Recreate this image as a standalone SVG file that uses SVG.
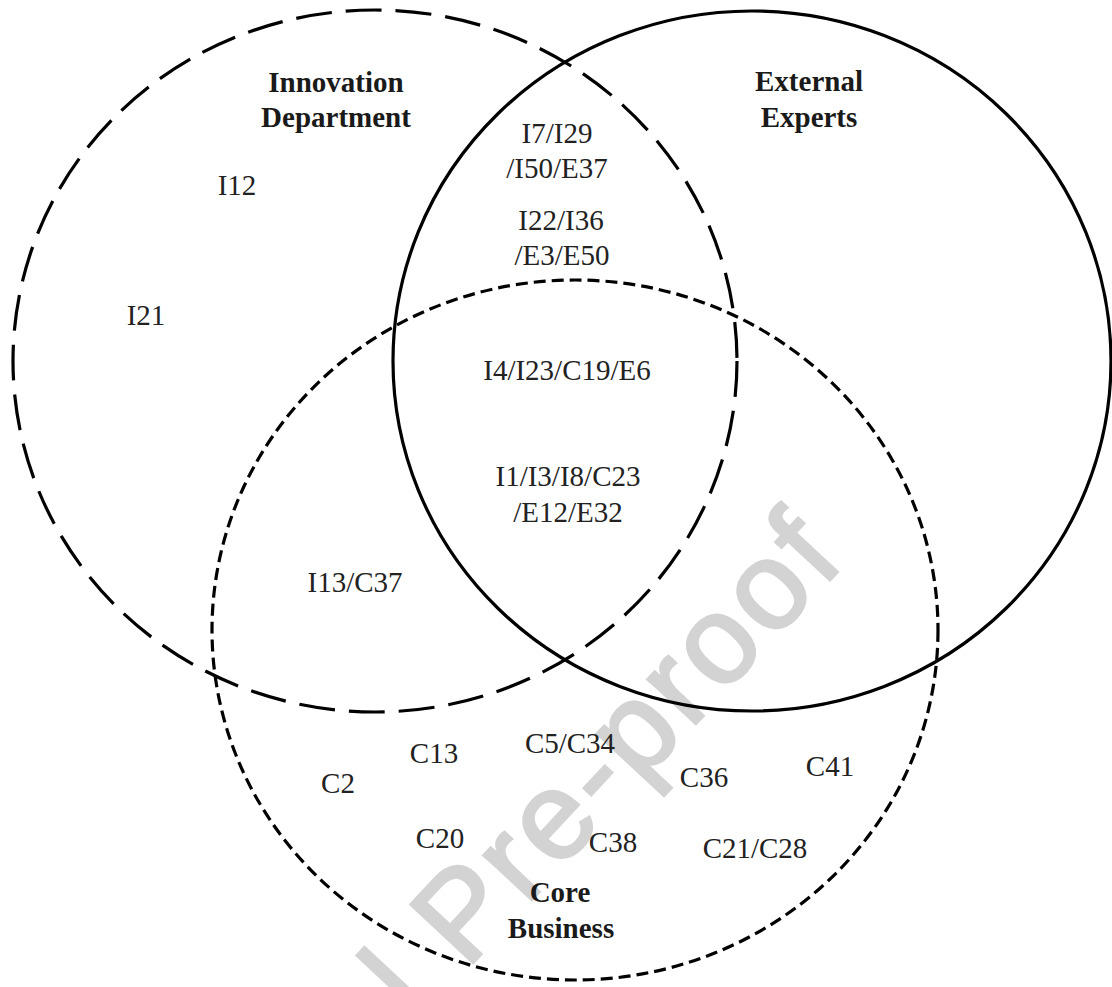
<svg xmlns="http://www.w3.org/2000/svg" width="1112" height="987" viewBox="0 0 1112 987">
  <style>
    .set { fill: none; stroke: #000; stroke-width: 3.2; }
    .innov { stroke-dasharray: 36 14; }
    .core { stroke-dasharray: 12 6; }
    .lbl { font-family: "Liberation Serif", "Times New Roman", serif; font-size: 29px; fill: #222; text-anchor: middle; }
    .title { font-family: "Liberation Serif", "Times New Roman", serif; font-size: 29px; font-weight: bold; fill: #1a1a1a; text-anchor: middle; }
    .wm { font-family: "Liberation Sans", Arial, sans-serif; font-size: 124px; fill: #d3d3d3; stroke: #d3d3d3; stroke-width: 3px; letter-spacing: 5px; }
  </style>
  <rect width="1112" height="987" fill="#fff"/>
  <text class="wm" transform="translate(138,1322) rotate(-47)">Journal Pre-proof</text>

  <g id="innovation-department">
    <ellipse class="set innov" cx="375" cy="361" rx="362" ry="351"/>
    <text class="title" x="336" y="92">Innovation</text>
    <text class="title" x="336" y="127">Department</text>
    <text class="lbl" x="237" y="195">I12</text>
    <text class="lbl" x="146" y="325">I21</text>
  </g>

  <g id="external-experts">
    <ellipse class="set" cx="752" cy="361" rx="359" ry="350"/>
    <text class="title" x="809" y="91">External</text>
    <text class="title" x="809" y="127">Experts</text>
  </g>

  <g id="core-business">
    <ellipse class="set core" cx="575" cy="630" rx="363" ry="350"/>
    <text class="title" x="560" y="902">Core</text>
    <text class="title" x="561" y="938">Business</text>
    <text class="lbl" x="338" y="793">C2</text>
    <text class="lbl" x="434" y="763">C13</text>
    <text class="lbl" x="570" y="753">C5/C34</text>
    <text class="lbl" x="440" y="848">C20</text>
    <text class="lbl" x="613" y="852">C38</text>
    <text class="lbl" x="704" y="787">C36</text>
    <text class="lbl" x="830" y="776">C41</text>
    <text class="lbl" x="755" y="858">C21/C28</text>
  </g>

  <g id="innovation-external">
    <text class="lbl" x="557" y="143">I7/I29</text>
    <text class="lbl" x="557" y="178">/I50/E37</text>
    <text class="lbl" x="561" y="230">I22/I36</text>
    <text class="lbl" x="562" y="265">/E3/E50</text>
  </g>

  <g id="all-three">
    <text class="lbl" x="567" y="380">I4/I23/C19/E6</text>
    <text class="lbl" x="568" y="486">I1/I3/I8/C23</text>
    <text class="lbl" x="568" y="522">/E12/E32</text>
  </g>

  <g id="innovation-core">
    <text class="lbl" x="355" y="592">I13/C37</text>
  </g>

  <g id="connectors"></g>
</svg>
